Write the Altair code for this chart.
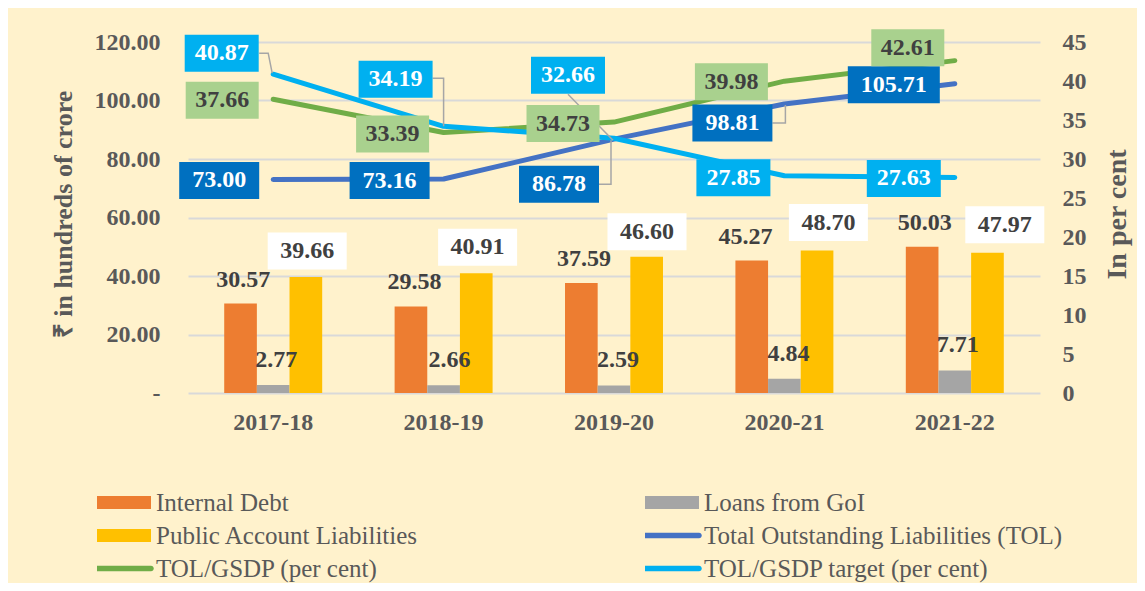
import altair as alt
import pandas as pd

# ---------------- data ----------------
years = ["2017-18", "2018-19", "2019-20", "2020-21", "2021-22"]
internal_debt = [30.57, 29.58, 37.59, 45.27, 50.03]
loans_goi = [2.77, 2.66, 2.59, 4.84, 7.71]
public_account = [39.66, 40.91, 46.60, 48.70, 47.97]
tol = [73.00, 73.16, 86.78, 98.81, 105.71]
tol_gsdp = [37.66, 33.39, 34.73, 39.98, 42.61]
tol_target = [40.87, 34.19, 32.66, 27.85, 27.63]
series_names = [
    "Internal Debt",
    "Loans from GoI",
    "Public Account Liabilities",
    "Total Outstanding Liabilities (TOL)",
    "TOL/GSDP (per cent)",
    "TOL/GSDP target (per cent)",
]
left_ticks = [0, 20, 40, 60, 80, 100, 120]
right_ticks = [0, 5, 10, 15, 20, 25, 30, 35, 40, 45]
left_title = "₹ in hundreds of crore"
right_title = "In per cent"

# ---------------- styles ----------------
FONT = "Liberation Serif"
AXIS_GRAY = "#595959"
DARK = "#404040"
BG = "#FFF2CC"
colors = ["#ED7D31", "#A5A5A5", "#FFC000", "#4472C4", "#70AD47", "#00B0F0"]
GRID = "#D9D9D9"
LEADER = "#A6A6A6"

# label placement offsets in pixels (relative to anchor point)
id_dx = [-30, -29, -30, -39, -30]
id_dy = -24
loan_dx = [3, 6, 4, 4, 3]
loan_dy = -25
pa_dx = [34, 34, 33, 44, 50]
pa_dy = [-26, -26, -25, -28, -28]
tol_dx = [-54, -54, -55, -52, -61]
tol_dy = [1, 1.5, 45, 19, 1]
gsdp_dx = [-51, -51, -51, -53, -47]
gsdp_dy = [1, 1.5, 1.5, 0.5, -13]
tgt_dx = [-51.5, -48, -46, -51, -51]
tgt_dy = [-21, -47, -63, 2, 1]

# leader line paths in pixel units around the anchor point (index -> path)
tgt_leaders = {0: "M-14,-21L-5,-21L-1,-1", 1: "M-11,-48L0,-48L0,0", 2: "M-46,-44L-1,2"}
tol_leaders = {2: "M-15,45L-3,45L-3,1", 3: "M-12,19L1,19L1,1"}


def rect_path(w, h):
    r = h / w
    return f"M-1,{-r:.4f}L1,{-r:.4f}L1,{r:.4f}L-1,{r:.4f}Z"


def line_path(w, t):
    r = t / w
    return (f"M-1,{-r:.4f}L1,{-r:.4f}A{r:.4f},{r:.4f} 0 0 1 1,{r:.4f}"
            f"L-1,{r:.4f}A{r:.4f},{r:.4f} 0 0 1 -1,{-r:.4f}Z")


# ---------------- scales / axes ----------------
xscale = alt.Scale(domain=years, paddingInner=0.425, paddingOuter=0.2125)
left_scale = alt.Scale(domain=[0, 120], nice=False)
right_scale = alt.Scale(domain=[0, 45], nice=False)
color_scale = alt.Scale(domain=series_names, range=colors)

x_axis = alt.Axis(labelAngle=0, labelFont=FONT, labelFontSize=24, labelFontWeight="bold",
                  labelColor=AXIS_GRAY, labelPadding=17, domain=False, ticks=False, grid=False,
                  title=None)
left_axis = alt.Axis(
    orient="left",
    values=left_ticks,
    labelExpr="datum.value == 0 ? '-\u2007' : format(datum.value, '.2f')",
    grid=True, gridColor=GRID, gridWidth=2, domain=False, ticks=False,
    labelFont=FONT, labelFontSize=24, labelFontWeight="bold", labelColor=AXIS_GRAY,
    labelPadding=28,
    title=left_title, titleFont=FONT, titleFontSize=26, titleFontWeight="bold",
    titleColor=AXIS_GRAY, titleAngle=270, titleX=-125, titleY=172,
    titleAlign="center", titleBaseline="middle",
)
right_axis = alt.Axis(
    orient="right", values=right_ticks, format="d", grid=False, domain=False, ticks=False,
    labelFont=FONT, labelFontSize=24, labelFontWeight="bold", labelColor=AXIS_GRAY,
    labelPadding=22,
    title=right_title, titleFont=FONT, titleFontSize=28, titleFontWeight="bold",
    titleColor=AXIS_GRAY, titleAngle=270, titleX=77, titleY=172,
    titleAlign="center", titleBaseline="middle",
)


def X():
    return alt.X("year:N", scale=xscale, axis=x_axis, title=None)


def YL(axis=None):
    return alt.Y("value:Q", scale=left_scale, axis=axis, title=left_title)


def YR(axis=None):
    return alt.Y("value:Q", scale=right_scale, axis=axis, title=right_title)


def one(year, value):
    return pd.DataFrame({"year": [year], "value": [value]})


def boxed(year, value, ychan, dx, dy, w, h, fill, tcolor):
    base = alt.Chart(one(year, value)).encode(x=X(), y=ychan)
    out = []
    if fill:
        out.append(base.mark_point(shape=rect_path(w, h), size=w * w, filled=True,
                                   fill=fill, opacity=1, strokeWidth=0,
                                   xOffset=dx, yOffset=dy))
    out.append(base.mark_text(font=FONT, fontSize=24, fontWeight="bold", color=tcolor,
                              dx=dx, dy=dy, align="center", baseline="middle")
               .encode(text=alt.Text("value:Q", format=".2f")))
    return out


def leader(year, value, ychan, path):
    return alt.Chart(one(year, value)).mark_point(
        shape=path, size=4, filled=False, stroke=LEADER, strokeWidth=1.5, opacity=1
    ).encode(x=X(), y=ychan)


# ---------------- marks ----------------
bar_series = series_names[:3]
offset_scale = alt.Scale(domain=bar_series)
bar_layers = []
for k, (s, vals) in enumerate(zip(bar_series, [internal_debt, loans_goi, public_account])):
    d = pd.DataFrame({"year": years, "series": [s] * len(years), "value": vals})
    bar_layers.append(
        alt.Chart(d).mark_bar(color=colors[k]).encode(
            x=X(),
            xOffset=alt.XOffset("series:N", scale=offset_scale),
            y=YL(left_axis) if k == 0 else YL(),
        )
    )

tol_df = pd.DataFrame({"year": years, "value": tol})
gsdp_df = pd.DataFrame({"year": years, "value": tol_gsdp})
tgt_df = pd.DataFrame({"year": years, "value": tol_target})

tol_line = alt.Chart(tol_df).mark_line(color=colors[3], strokeWidth=5, strokeCap="round",
                                       strokeJoin="round").encode(x=X(), y=YL())
gsdp_line = alt.Chart(gsdp_df).mark_line(color=colors[4], strokeWidth=5, strokeCap="round",
                                         strokeJoin="round").encode(x=X(), y=YR(right_axis))
tgt_line = alt.Chart(tgt_df).mark_line(color=colors[5], strokeWidth=5, strokeCap="round",
                                       strokeJoin="round").encode(x=X(), y=YR())

# legend drawn from the colour / shape scales (invisible anchor marks)
legend_paths = [rect_path(54, 13)] * 3 + [line_path(54, 5.5)] * 3
legend_props = dict(
    title=None, orient="none", legendX=-91, legendY=444, columns=2, direction="horizontal",
    columnPadding=226, rowPadding=0, padding=0, clipHeight=33,
    symbolSize=54 * 54, symbolStrokeWidth=0, symbolOpacity=1, labelOffset=5, labelLimit=600,
    labelFont=FONT, labelFontSize=25, labelColor=AXIS_GRAY,
)
legend_df = pd.DataFrame({"series": series_names, "value": [0.0] * 6,
                          "year": years + [years[0]]})
legend_layer = alt.Chart(legend_df).mark_point(filled=True, opacity=0).encode(
    x=X(), y=YL(),
    color=alt.Color("series:N", scale=color_scale, legend=alt.Legend(**legend_props)),
    shape=alt.Shape("series:N", scale=alt.Scale(domain=series_names, range=legend_paths),
                    legend=alt.Legend(**legend_props)),
)

layers = bar_layers + [tol_line, gsdp_line, tgt_line]

for i, y in enumerate(years):
    layers += boxed(y, internal_debt[i], YL(), id_dx[i], id_dy, 0, 0, None, DARK)
    layers += boxed(y, loans_goi[i], YL(), loan_dx[i], loan_dy, 0, 0, None, DARK)
    layers += boxed(y, public_account[i], YL(), pa_dx[i], pa_dy[i], 79, 37, "#FFFFFF", DARK)
for i, path in tol_leaders.items():
    layers.append(leader(years[i], tol[i], YL(), path))
for i, path in tgt_leaders.items():
    layers.append(leader(years[i], tol_target[i], YR(), path))
for i, y in enumerate(years):
    w = 92 if tol[i] >= 100 else 80
    layers += boxed(y, tol[i], YL(), tol_dx[i], tol_dy[i], w, 37, "#0070C0", "#FFFFFF")
for i, y in enumerate(years):
    layers += boxed(y, tol_gsdp[i], YR(), gsdp_dx[i], gsdp_dy[i], 73, 37, "#A9D18E", DARK)
for i, y in enumerate(years):
    layers += boxed(y, tol_target[i], YR(), tgt_dx[i], tgt_dy[i], 74, 37, "#00B0F0", "#FFFFFF")
layers.append(legend_layer)

chart = (
    alt.layer(*layers)
    .resolve_scale(y="independent")
    .properties(
        width=852, height=351, background=BG,
        padding={"left": 180, "top": 34, "right": 97, "bottom": 190},
        autosize=alt.AutoSizeParams(type="none"),
    )
    .configure(font=FONT)
    .configure_legend(labelFont=FONT)
    .configure_view(strokeWidth=0)
)

chart.save("out.html", embed_options={"renderer": "svg", "actions": False})
